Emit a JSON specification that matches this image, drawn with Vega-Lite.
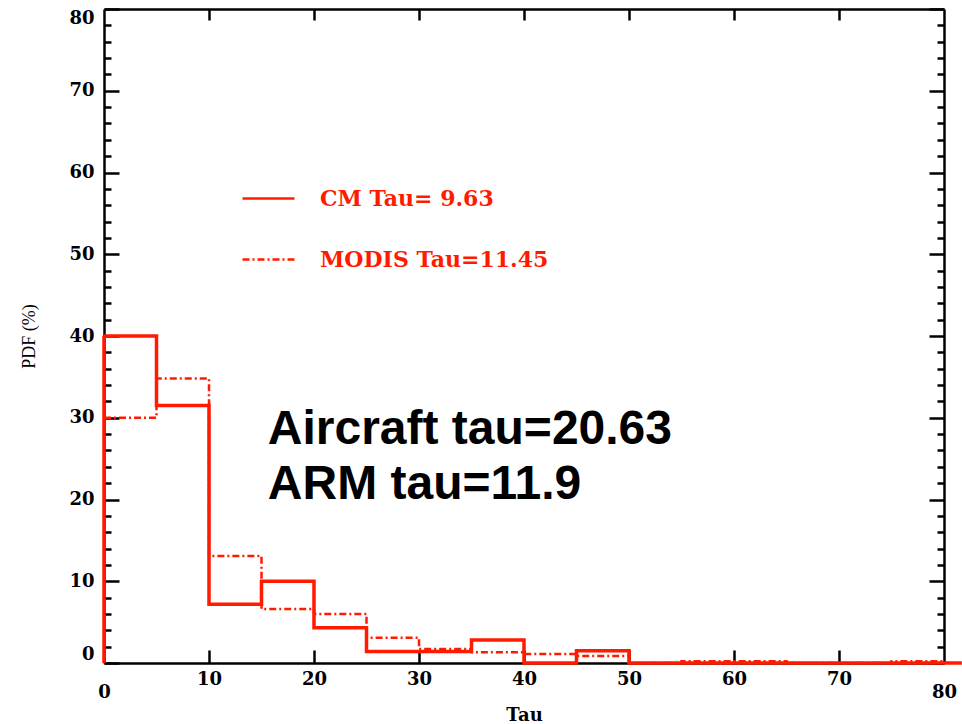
{
  "$schema": "https://vega.github.io/schema/vega-lite/v6.json",
  "width": 840,
  "height": 654,
  "autosize": {"type": "none"},
  "padding": {"left": 104, "top": 9, "right": 18, "bottom": 61},
  "background": "white",
  "config": {
    "view": {"stroke": null},
    "axis": {
      "domainColor": "black",
      "domainWidth": 2.5,
      "tickColor": "black",
      "tickWidth": 2.5,
      "grid": false,
      "labelFont": "DejaVu Serif",
      "labelFontWeight": "bold",
      "labelFontSize": 18,
      "labelColor": "black"
    }
  },
  "datasets": {
    "hist": [
      {"series": "CM Tau= 9.63", "tau": 0, "pdf": 0},
      {"series": "CM Tau= 9.63", "tau": 0, "pdf": 40},
      {"series": "CM Tau= 9.63", "tau": 5, "pdf": 31.5},
      {"series": "CM Tau= 9.63", "tau": 10, "pdf": 7.2},
      {"series": "CM Tau= 9.63", "tau": 15, "pdf": 10},
      {"series": "CM Tau= 9.63", "tau": 20, "pdf": 4.3},
      {"series": "CM Tau= 9.63", "tau": 25, "pdf": 1.4},
      {"series": "CM Tau= 9.63", "tau": 30, "pdf": 1.4},
      {"series": "CM Tau= 9.63", "tau": 35, "pdf": 2.8},
      {"series": "CM Tau= 9.63", "tau": 40, "pdf": 0},
      {"series": "CM Tau= 9.63", "tau": 45, "pdf": 1.5},
      {"series": "CM Tau= 9.63", "tau": 50, "pdf": 0},
      {"series": "CM Tau= 9.63", "tau": 80, "pdf": 0},
      {"series": "CM Tau= 9.63", "tau": 81.7, "pdf": 0},
      {"series": "MODIS Tau=11.45", "tau": 0, "pdf": 30},
      {"series": "MODIS Tau=11.45", "tau": 5, "pdf": 34.8},
      {"series": "MODIS Tau=11.45", "tau": 10, "pdf": 13.1},
      {"series": "MODIS Tau=11.45", "tau": 15, "pdf": 6.6},
      {"series": "MODIS Tau=11.45", "tau": 20, "pdf": 6.0},
      {"series": "MODIS Tau=11.45", "tau": 25, "pdf": 3.1},
      {"series": "MODIS Tau=11.45", "tau": 30, "pdf": 1.7},
      {"series": "MODIS Tau=11.45", "tau": 35, "pdf": 1.3},
      {"series": "MODIS Tau=11.45", "tau": 40, "pdf": 1.1},
      {"series": "MODIS Tau=11.45", "tau": 45, "pdf": 0.85},
      {"series": "MODIS Tau=11.45", "tau": 50, "pdf": 0},
      {"series": "MODIS Tau=11.45", "tau": 55, "pdf": 0.2},
      {"series": "MODIS Tau=11.45", "tau": 65, "pdf": 0},
      {"series": "MODIS Tau=11.45", "tau": 75, "pdf": 0.2},
      {"series": "MODIS Tau=11.45", "tau": 80, "pdf": 0.2}
    ]
  },
  "layer": [
    {
      "data": {"name": "hist"},
      "transform": [{"filter": "datum.series === 'MODIS Tau=11.45'"}],
      "mark": {"type": "line", "interpolate": "step-after", "color": "#ff1a00", "strokeWidth": 2.5, "clip": false},
      "encoding": {
        "x": {
          "field": "tau", "type": "quantitative",
          "scale": {"domain": [0, 80], "nice": false, "zero": false},
          "axis": {"orient": "top", "values": [10, 20, 30, 40, 50, 60, 70], "labels": false, "tickSize": -11, "title": null}
        },
        "y": {
          "field": "pdf", "type": "quantitative",
          "scale": {"domain": [0, 80], "nice": false},
          "axis": {
            "orient": "right",
            "values": [0,2,4,6,8,10,12,14,16,18,20,22,24,26,28,30,32,34,36,38,40,42,44,46,48,50,52,54,56,58,60,62,64,66,68,70,72,74,76,78,80],
            "labels": false,
            "tickSize": {"condition": {"test": "datum.value % 10 === 0", "value": -15}, "value": -7},
            "title": null
          }
        },
        "strokeDash": {
          "field": "series", "type": "nominal",
          "scale": {"domain": ["CM Tau= 9.63", "MODIS Tau=11.45"], "range": [[1, 0], [7, 3, 2, 3]]},
          "legend": {
            "orient": "none",
            "legendX": 137,
            "legendY": 162,
            "title": null,
            "symbolType": "stroke",
            "symbolSize": 2704,
            "symbolStrokeWidth": 2.5,
            "symbolStrokeColor": "#ff1a00",
            "labelColor": "#ff1a00",
            "labelFont": "DejaVu Serif",
            "labelFontWeight": "bold",
            "labelFontSize": 22,
            "labelOffset": 24,
            "labelLimit": 400,
            "rowPadding": 22
          }
        }
      }
    },
    {
      "data": {"name": "hist"},
      "transform": [{"filter": "datum.series === 'CM Tau= 9.63'"}],
      "mark": {"type": "line", "interpolate": "step-after", "color": "#ff1a00", "strokeWidth": 3.5, "clip": false},
      "encoding": {
        "x": {
          "field": "tau", "type": "quantitative",
          "scale": {"domain": [0, 80], "nice": false, "zero": false},
          "axis": {
            "orient": "bottom",
            "values": [0, 10, 20, 30, 40, 50, 60, 70, 80],
            "tickSize": {"condition": {"test": "datum.value > 0 && datum.value < 80", "value": -13}, "value": 0},
            "labelPadding": 20,
            "labelFlush": false,
            "title": "Tau",
            "titleFont": "DejaVu Serif",
            "titleFontWeight": "bold",
            "titleFontSize": 18,
            "titleBaseline": "alphabetic",
            "titleY": 57
          }
        },
        "y": {
          "field": "pdf", "type": "quantitative",
          "scale": {"domain": [0, 80], "nice": false},
          "axis": {
            "orient": "left",
            "values": [0,2,4,6,8,10,12,14,16,18,20,22,24,26,28,30,32,34,36,38,40,42,44,46,48,50,52,54,56,58,60,62,64,66,68,70,72,74,76,78,80],
            "labelExpr": "datum.value % 10 === 0 ? datum.label : ''",
            "tickSize": {"condition": {"test": "datum.value % 10 === 0", "value": -15}, "value": -7},
            "labelPadding": 25,
            "labelFlush": true,
            "title": "PDF (%)",
            "titleFont": "Liberation Serif",
            "titleFontWeight": "normal",
            "titleFontSize": 18,
            "titleBaseline": "alphabetic",
            "titleX": -70
          }
        },
        "strokeDash": {"field": "series", "type": "nominal"}
      }
    },
    {
      "data": {"values": [{}]},
      "mark": {
        "type": "text",
        "font": "Liberation Sans",
        "fontWeight": "bold",
        "fontSize": 48,
        "align": "left",
        "baseline": "alphabetic",
        "lineHeight": 55,
        "color": "black"
      },
      "encoding": {
        "x": {"datum": 15.6, "type": "quantitative", "axis": null},
        "y": {"datum": 26.8, "type": "quantitative", "axis": null},
        "text": {"value": ["Aircraft tau=20.63", "ARM tau=11.9"]}
      }
    }
  ],
  "resolve": {"axis": {"x": "independent", "y": "independent"}}
}
